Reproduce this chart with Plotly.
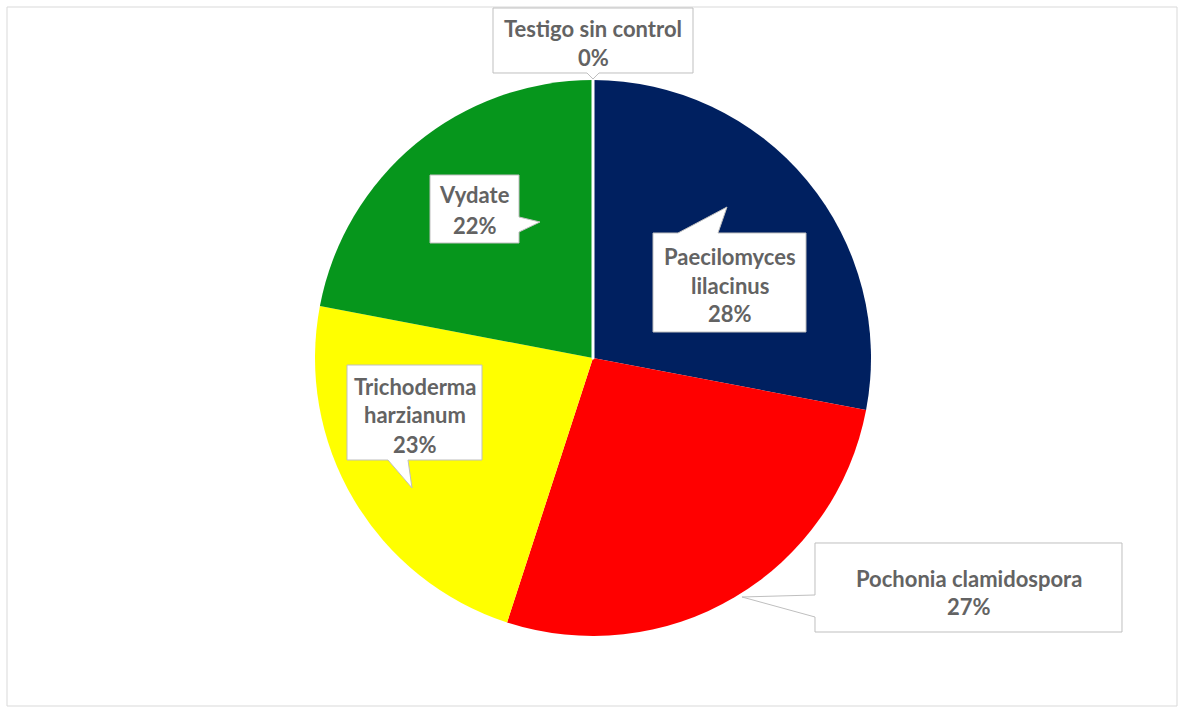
import plotly.graph_objects as go

# Share of nematode control by treatment (%)
treatments = ["Paecilomyces lilacinus", "Pochonia clamidospora",
              "Trichoderma harzianum", "Vydate", "Testigo sin control"]
label_lines = [["Paecilomyces", "lilacinus"], ["Pochonia clamidospora"],
               ["Trichoderma", "harzianum"], ["Vydate"], ["Testigo sin control"]]
shares = [28, 27, 23, 22, 0]
colors = ["#002060", "#FF0000", "#FFFF00", "#06961C", "#FFFFFF"]

W, H = 1178, 707


def px(x):
    return x / W


def py(y):
    return 1 - y / H


fig = go.Figure()
fig.add_trace(go.Pie(
    labels=treatments,
    values=shares,
    sort=False,
    direction="clockwise",
    rotation=0,
    textinfo="none",
    hoverinfo="label+percent",
    marker=dict(colors=colors,
                line=dict(color="#FFFFFF", width=[0, 0, 0, 0, 3])),
    domain=dict(x=[px(315), px(871)], y=[py(636), py(80)]),
    showlegend=False,
))

# callout bubbles: box (x0, y0, x1, y1) plus a pointer polygon, in pixels
callouts = [
    dict(box=(653, 233, 806, 332), tail=("top", 678, 718, (727, 207)), lines_y=[256, 285, 313]),
    dict(box=(815, 543, 1122, 632), tail=("left", 595, 617, (742, 597)), lines_y=[578, 606]),
    dict(box=(347, 365, 482, 460), tail=("bottom", 388, 408, (412, 488)), lines_y=[386, 415, 444]),
    dict(box=(430, 175, 519, 243), tail=("right", 217, 232, (540, 222)), lines_y=[195, 226]),
    dict(box=(493, 8, 693, 73), tail=("bottom", 587, 599, (593, 79)), lines_y=[28, 57]),
]


def bubble_path(box, tail):
    x0, y0, x1, y1 = box
    side, a, b, tip = tail
    if side == "top":
        pts = [(x0, y0), (a, y0), tip, (b, y0), (x1, y0), (x1, y1), (x0, y1)]
    elif side == "bottom":
        pts = [(x0, y0), (x1, y0), (x1, y1), (b, y1), tip, (a, y1), (x0, y1)]
    elif side == "left":
        pts = [(x0, y0), (x1, y0), (x1, y1), (x0, y1), (x0, b), tip, (x0, a)]
    else:
        pts = [(x0, y0), (x1, y0), (x1, a), tip, (x1, b), (x1, y1), (x0, y1)]
    return "M " + " L ".join(f"{px(x):.5f},{py(y):.5f}" for x, y in pts) + " Z"


shapes = [dict(type="rect", xref="paper", yref="paper",
               x0=px(7), y0=py(706), x1=px(1177), y1=py(7),
               line=dict(color="#D9D9D9", width=1), fillcolor="rgba(0,0,0,0)",
               layer="below")]
annotations = []
for c, lines, v in zip(callouts, label_lines, shares):
    shapes.append(dict(type="path", xref="paper", yref="paper",
                       path=bubble_path(c["box"], c["tail"]),
                       fillcolor="#FFFFFF", line=dict(color="#BFBFBF", width=1)))
    cx = (c["box"][0] + c["box"][2]) / 2
    texts = lines + [f"{v}%"]
    for t, ly in zip(texts, c["lines_y"]):
        annotations.append(dict(x=px(cx), y=py(ly), xref="paper", yref="paper",
                                text=f"<b>{t}</b>", showarrow=False,
                                xanchor="center", yanchor="middle",
                                font=dict(family="Lato", size=22, color="#636363")))

fig.update_layout(
    width=W, height=H,
    margin=dict(l=0, r=0, t=0, b=0),
    paper_bgcolor="#FFFFFF",
    plot_bgcolor="#FFFFFF",
    shapes=shapes,
    annotations=annotations,
)

fig.write_html("out.html")
